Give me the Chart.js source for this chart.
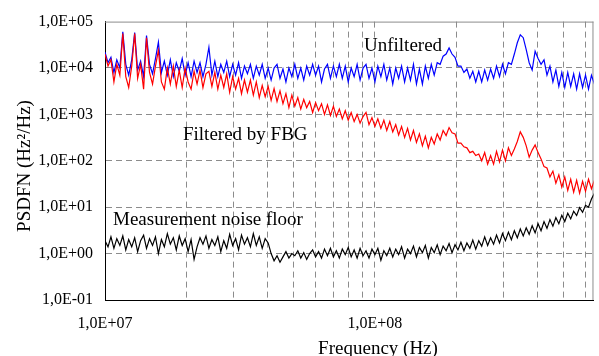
<!DOCTYPE html>
<html>
<head>
<meta charset="utf-8">
<script src="https://cdn.jsdelivr.net/npm/chart.js@4.4.1/dist/chart.umd.min.js"></script>
<style>
  html, body { margin: 0; padding: 0; background: #fff; }
  #wrap { width: 599px; height: 356px; position: relative; }
</style>
</head>
<body>
<div id="wrap"><canvas id="psd"></canvas></div>
<script>
// frequency samples (MHz)
const freqMHz = [
  10.00, 10.26, 10.52, 10.79, 11.06, 11.35, 11.64, 11.94, 12.24, 12.56,
  12.88, 13.21, 13.55, 13.90, 14.25, 14.62, 15.00, 15.38, 15.77, 16.18,
  16.59, 17.02, 17.46, 17.91, 18.37, 18.84, 19.32, 19.81, 20.32, 20.84,
  21.38, 21.93, 22.49, 23.06, 23.66, 24.26, 24.89, 25.52, 26.18, 26.85,
  27.54, 28.24, 28.96, 29.71, 30.47, 31.25, 32.04, 32.86, 33.70, 34.57,
  35.44, 36.35, 37.28, 38.23, 39.21, 40.22, 41.25, 42.30, 43.38, 44.49,
  45.63, 46.80, 48.00, 49.23, 50.49, 51.79, 53.12, 54.48, 55.87, 57.30,
  58.77, 60.28, 61.82, 63.41, 65.03, 66.70, 68.41, 70.16, 71.96, 73.80,
  75.69, 77.63, 79.62, 81.66, 83.75, 85.90, 88.10, 90.36, 92.67, 95.05,
  97.48, 99.98, 102.5, 105.2, 107.9, 110.6, 113.5, 116.4, 119.4, 122.4,
  125.5, 128.8, 132.1, 135.4, 138.9, 142.5, 146.1, 149.9, 153.7, 157.7,
  161.7, 165.8, 170.1, 174.4, 178.9, 183.5, 188.2, 193.0, 198.0, 203.0,
  208.2, 213.6, 219.1, 224.7, 230.4, 236.3, 242.4, 248.6, 255.0, 261.5,
  268.2, 275.1, 282.1, 289.4, 296.8, 304.4, 312.2, 320.2, 328.4, 336.8,
  345.5, 354.3, 363.4, 372.7, 382.3, 392.1, 402.1, 412.4, 423.0, 433.8,
  444.9, 456.3, 468.0, 480.0, 492.3, 504.9, 517.9, 531.1, 544.7, 558.7,
  573.0, 587.7, 602.7, 618.2, 634.0, 650.2
];

// PSDFN (Hz^2/Hz)
const unfiltered = [
  2.2e4, 1.3e4, 1.7e4, 8.0e3, 1.5e4, 1.0e4, 6.0e4, 1.2e4, 7.0e3, 1.5e4,
  5.8e4, 9.0e3, 1.4e4, 6.5e3, 5.0e4, 1.2e4, 7.5e3, 1.6e4, 3.6e4, 8.0e3,
  1.4e4, 7.0e3, 1.5e4, 6.5e3, 1.3e4, 8.5e3, 1.6e4, 7.0e3, 1.3e4, 6.5e3,
  1.4e4, 8.0e3, 1.3e4, 6.5e3, 1.2e4, 2.8e4, 7.0e3, 1.4e4, 6.5e3, 1.2e4,
  8.0e3, 1.4e4, 6.5e3, 1.2e4, 7.0e3, 1.3e4, 6.0e3, 1.1e4, 7.5e3, 1.2e4,
  6.0e3, 1.1e4, 7.0e3, 1.2e4, 6.0e3, 1.0e4, 5.5e3, 1.0e4, 1.2e4, 6.0e3,
  9.5e3, 5.0e3, 1.0e4, 6.5e3, 1.2e4, 6.0e3, 1.0e4, 5.5e3, 1.1e4, 7.0e3,
  1.2e4, 7.0e3, 1.1e4, 5.0e3, 9.5e3, 1.2e4, 6.0e3, 1.1e4, 6.5e3, 1.2e4,
  6.0e3, 1.1e4, 5.0e3, 1.0e4, 6.5e3, 1.2e4, 5.5e3, 1.0e4, 1.2e4, 6.0e3,
  1.0e4, 5.0e3, 1.1e4, 6.5e3, 1.2e4, 5.5e3, 1.0e4, 4.5e3, 1.0e4, 6.0e3,
  1.1e4, 5.0e3, 1.0e4, 5.5e3, 1.2e4, 4.5e3, 9.5e3, 4.5e3, 1.1e4, 6.0e3,
  1.2e4, 7.0e3, 1.3e4, 1.2e4, 1.8e4, 2.0e4, 2.7e4, 2.0e4, 1.7e4, 1.1e4,
  1.1e4, 8.0e3, 9.5e3, 6.0e3, 8.5e3, 5.0e3, 8.5e3, 5.0e3, 9.0e3, 5.5e3,
  9.5e3, 6.0e3, 1.1e4, 6.5e3, 1.2e4, 7.5e3, 1.3e4, 1.2e4, 2.0e4, 3.5e4,
  5.2e4, 4.5e4, 2.5e4, 1.3e4, 9.0e3, 2.3e4, 1.6e4, 1.2e4, 1.5e4, 7.0e3,
  1.1e4, 5.0e3, 9.0e3, 4.0e3, 8.0e3, 3.8e3, 8.0e3, 4.0e3, 7.5e3, 3.5e3,
  7.5e3, 3.8e3, 7.0e3, 3.5e3, 7.0e3, 4.5e3
];

const filteredFBG = [
  2.0e4, 1.1e4, 1.5e4, 5.0e3, 1.2e4, 7.0e3, 5.5e4, 6.5e3, 3.8e3, 1.1e4,
  5.5e4, 6.0e3, 1.2e4, 3.5e3, 4.5e4, 8.0e3, 4.5e3, 1.1e4, 2.4e4, 5.0e3,
  3.5e3, 1.0e4, 4.5e3, 1.1e4, 4.0e3, 9.0e3, 3.8e3, 1.0e4, 5.0e3, 3.5e3,
  8.5e3, 4.5e3, 9.0e3, 3.8e3, 7.5e3, 8.5e3, 4.0e3, 8.0e3, 3.5e3, 7.0e3,
  3.8e3, 7.5e3, 3.0e3, 6.5e3, 3.5e3, 6.0e3, 2.8e3, 5.5e3, 3.0e3, 5.5e3,
  2.6e3, 5.0e3, 2.3e3, 4.2e3, 2.4e3, 4.0e3, 2.0e3, 3.6e3, 1.9e3, 3.2e3,
  1.7e3, 2.8e3, 1.4e3, 2.6e3, 1.5e3, 2.3e3, 1.3e3, 2.1e3, 1.4e3, 1.9e3,
  1.1e3, 1.8e3, 1.2e3, 1.7e3, 1.0e3, 1.6e3, 9.5e2, 1.5e3, 9.0e2, 1.3e3,
  8.0e2, 1.2e3, 7.5e2, 1.1e3, 7.0e2, 1.0e3, 6.5e2, 9.0e2, 1.1e3, 6.0e2,
  8.5e2, 5.5e2, 8.0e2, 5.0e2, 7.5e2, 4.5e2, 7.0e2, 4.2e2, 6.0e2, 3.6e2,
  5.5e2, 3.2e2, 5.0e2, 2.8e2, 4.5e2, 2.5e2, 3.8e2, 2.1e2, 3.4e2, 1.9e2,
  3.2e2, 2.3e2, 3.8e2, 2.8e2, 4.5e2, 3.5e2, 5.2e2, 4.0e2, 3.8e2, 2.4e2,
  2.4e2, 2.0e2, 1.9e2, 1.5e2, 1.6e2, 1.3e2, 1.4e2, 1.0e2, 1.5e2, 8.5e1,
  1.3e2, 8.5e1, 1.6e2, 9.5e1, 1.7e2, 1.0e2, 1.9e2, 1.3e2, 1.8e2, 2.6e2,
  4.2e2, 3.2e2, 2.1e2, 1.2e2, 1.7e2, 2.2e2, 1.5e2, 1.1e2, 7.5e1, 7.0e1,
  4.5e1, 6.0e1, 3.3e1, 5.0e1, 2.7e1, 4.5e1, 2.3e1, 4.0e1, 2.1e1, 3.8e1,
  2.0e1, 3.6e1, 2.2e1, 4.0e1, 2.5e1, 3.8e1
];

const noiseFloor = [
  1.9, 1.4, 2.3, 1.3, 2.1, 1.5, 2.4, 1.2, 2.0, 1.4,
  2.2, 1.1, 1.9, 2.5, 1.3, 2.1, 1.5, 2.3, 1.0, 2.0,
  1.4, 2.7, 1.6, 2.2, 1.2, 2.4, 1.5, 2.1, 1.1, 2.0,
  0.75, 1.4, 2.2, 1.6, 2.4, 1.3, 2.0, 1.5, 2.3, 1.1,
  1.9, 1.3, 2.6, 1.5, 2.1, 1.2, 2.5, 1.6, 2.2, 1.4,
  2.7, 1.5, 2.3, 1.3, 2.1, 1.7, 1.0, 0.7, 0.9, 0.65,
  0.85, 1.1, 0.8, 1.0, 0.9, 1.15, 0.8, 1.05, 0.75, 1.0,
  1.2, 0.85, 1.1, 0.8, 1.25, 0.9, 1.3, 0.85, 1.15, 0.8,
  1.25, 0.95, 1.35, 0.85, 1.2, 0.8, 1.3, 0.9, 1.15, 0.8,
  1.25, 0.95, 1.3, 0.72, 1.15, 0.9, 1.3, 0.85, 1.25, 0.95,
  1.4, 0.8, 1.25, 1.0, 1.45, 0.85, 1.35, 1.05, 1.5, 0.8,
  1.35, 1.05, 1.55, 0.95, 1.45, 1.15, 1.65, 1.05, 1.55, 1.2,
  1.75, 1.15, 1.7, 1.3, 1.95, 1.25, 1.9, 1.45, 2.3, 1.5,
  2.2, 1.6, 2.5, 1.7, 2.7, 1.9, 2.9, 2.0, 3.1, 2.2,
  3.4, 2.4, 3.6, 2.6, 4.0, 2.8, 4.4, 3.1, 4.9, 3.5,
  5.4, 3.9, 6.0, 4.4, 6.7, 4.9, 7.4, 5.6, 8.2, 6.6,
  9.8, 7.8, 11, 10, 15, 20
];

const yTickValues = [1e-1, 1e0, 1e1, 1e2, 1e3, 1e4, 1e5];
const xTickValues = [1e7, 2e7, 3e7, 4e7, 5e7, 6e7, 7e7, 8e7, 9e7,
                     1e8, 2e8, 3e8, 4e8, 5e8, 6e8];
const xLabelled = [1e7, 1e8];

const SERIF = '"Liberation Serif", "Times New Roman", serif';

function sciLabel(v) {
  const e = Math.round(Math.log10(v));
  const m = v / Math.pow(10, e);
  return m.toFixed(1).replace('.', ',') + 'E' + (e < 0 ? '-' : '+') + String(Math.abs(e)).padStart(2, '0');
}

function toPoints(values) {
  return freqMHz.map((f, i) => ({ x: f * 1e6, y: values[i] }));
}

// gray frame on top/right plus the free text labels
const frameAndText = {
  id: 'frameAndText',
  beforeDatasetsDraw(chart) {
    const { ctx, chartArea: a } = chart;
    ctx.save();
    ctx.strokeStyle = '#8c8c8c';
    ctx.lineWidth = 1;
    ctx.beginPath();
    ctx.moveTo(a.left, a.top + 0.5);
    ctx.lineTo(a.right, a.top + 0.5);
    ctx.moveTo(a.right - 0.5, a.top);
    ctx.lineTo(a.right - 0.5, a.bottom);
    ctx.stroke();
    ctx.restore();
  },
  afterDraw(chart) {
    const { ctx } = chart;
    ctx.save();
    ctx.fillStyle = '#000';
    ctx.font = '19px ' + SERIF;
    ctx.textAlign = 'left';
    ctx.textBaseline = 'alphabetic';
    ctx.fillText('Unfiltered', 364, 51);
    ctx.fillText('Filtered by FBG', 183, 140);
    ctx.fillText('Measurement noise floor', 113, 225);

    ctx.textAlign = 'center';
    ctx.fillText('Frequency (Hz)', 378, 354);

    ctx.translate(25, 166);
    ctx.rotate(-Math.PI / 2);
    ctx.textBaseline = 'middle';
    ctx.fillText('PSDFN (Hz\u00B2/Hz)', 0, 0);
    ctx.restore();
  }
};

Chart.defaults.font.family = SERIF;
Chart.defaults.color = '#000';

new Chart(document.getElementById('psd'), {
  type: 'line',
  data: {
    datasets: [
      {
        label: 'Filtered by FBG',
        data: toPoints(filteredFBG),
        borderColor: '#ff0000',
        borderWidth: 1.2,
      },
      {
        label: 'Unfiltered',
        data: toPoints(unfiltered),
        borderColor: '#0000ff',
        borderWidth: 1.2,
      },
      {
        label: 'Measurement noise floor',
        data: toPoints(noiseFloor),
        borderColor: '#000000',
        borderWidth: 1.2,
      },
    ],
  },
  options: {
    responsive: true,
    maintainAspectRatio: false,
    animation: false,
    layout: { padding: { top: 18, right: 0, bottom: 0, left: 0 } },
    elements: {
      point: { radius: 0 },
      line: { tension: 0 },
    },
    plugins: {
      legend: { display: false },
      tooltip: { enabled: false },
    },
    scales: {
      x: {
        type: 'logarithmic',
        min: 1e7,
        max: 6.45e8,
        afterBuildTicks: s => { s.ticks = xTickValues.map(v => ({ value: v })); },
        afterFit: s => { s.height = 56; },
        ticks: {
          autoSkip: false,
          maxRotation: 0,
          padding: 14,
          font: { size: 16 },
          callback: v => (xLabelled.includes(v) ? sciLabel(v) : ''),
        },
        grid: {
          drawTicks: false,
          color: '#8c8c8c',
          lineWidth: 1,
        },
        border: { color: '#000', width: 1, dash: [6, 4] },
      },
      y: {
        type: 'logarithmic',
        min: 1e-1,
        max: 1e5,
        afterBuildTicks: s => { s.ticks = yTickValues.map(v => ({ value: v })); },
        afterFit: s => { s.width = 105; },
        ticks: {
          autoSkip: false,
          padding: 12,
          font: { size: 16 },
          callback: v => sciLabel(v),
        },
        grid: {
          drawTicks: false,
          color: ctx => (ctx.tick && ctx.tick.value >= 1e5 ? 'rgba(0,0,0,0)' : '#8c8c8c'),
          lineWidth: 1,
        },
        border: { color: '#000', width: 1, dash: [6, 4] },
      },
    },
  },
  plugins: [frameAndText],
});
</script>
</body>
</html>
